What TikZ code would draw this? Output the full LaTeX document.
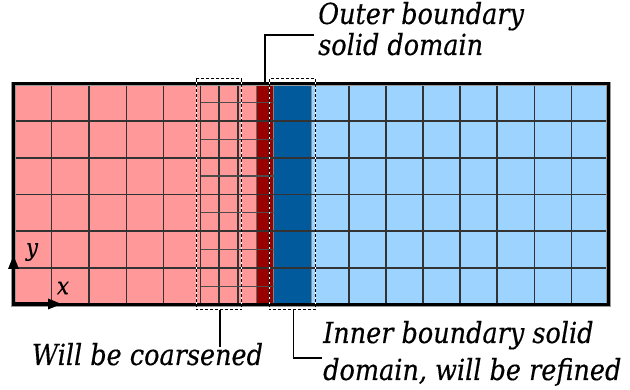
\documentclass[tikz,border=0pt]{standalone}
\usepackage{fontspec}
\setmainfont{DejaVu Serif}
\newfontfamily\labelfont[FakeStretch=0.88,FakeBold=0.4]{DejaVu Serif}
\usetikzlibrary{arrows.meta}
\definecolor{cellpink}{HTML}{FF9999}
\definecolor{solidred}{HTML}{990000}
\definecolor{solidblue}{HTML}{005A9C}
\definecolor{fluidblue}{HTML}{9DD4FF}
\tikzset{
  gridline/.style={draw=black!80, line width=1.5pt},
  fineline/.style={draw=black!70, line width=1.5pt},
  zonebox/.style={line width=1pt, dash pattern=on 3pt off 2pt},
  leader/.style={draw=black, line width=1.5pt},
  label/.style={font=\labelfont\fontsize{29}{34}\selectfont\itshape, inner sep=0pt, anchor=base west},
  axislabel/.style={font=\labelfont\fontsize{24}{28}\selectfont\itshape, inner sep=0pt},
  axis/.style={line width=3pt, -{Triangle[length=14pt,width=10pt]}}
}
\begin{document}
\begin{tikzpicture}[x=1pt,y=-1pt]
\useasboundingbox (0,0) rectangle (630,390);
% regions of the mesh
\fill[cellpink]   (13.5,84) rectangle (256.5,305);
\fill[solidred]   (256.5,84) rectangle (273.5,305);
\fill[solidblue]  (273.5,84) rectangle (311.5,305);
\fill[fluidblue]  (311.5,84) rectangle (608.5,305);
% regular columns
\foreach \x in {51.5,89,126.3,163.5,200.5,219,238,349,386,423,460,497,534.5,571.5}
  \draw[gridline] (\x,84) -- (\x,305);
\draw[draw=black!45, line width=1.4pt] (311.5,84) -- (311.5,305);
\draw[draw=black!60, line width=1pt] (256.5,84) -- (256.5,305);
\draw[draw=black!50, line width=1pt] (273.5,84) -- (273.5,305);
% rows
\foreach \y in {121,158,194.5,231,268}
  \draw[gridline] (13.5,\y) -- (608.5,\y);
% refined half rows next to the solid
\foreach \y in {102.5,139.5,176,212.5,249.5,286.5}
  \draw[fineline] (200.5,\y) -- (273.5,\y);
% outer frame
\draw[black!40, line width=4.5pt] (13.5,84) rectangle (608.5,305);
\draw[black, line width=3pt] (13.5,84) rectangle (608.5,305);
% zones marked for adaptation
\coordinate (cA) at (196,79);
\coordinate (cB) at (241.7,310);
\coordinate (rA) at (269.3,79);
\coordinate (rB) at (315.5,310);
\draw[white, line width=1pt] (cA) rectangle (cB);
\draw[zonebox] (cA) rectangle (cB);
\draw[white, line width=1pt] (rA) rectangle (rB);
\draw[zonebox] (rA) rectangle (rB);
% axes
\coordinate (origin) at (13.5,304);
\coordinate (yend) at (13.5,255);
\coordinate (xend) at (62,304);
\draw[axis] (origin) -- (yend);
\draw[axis] (origin) -- (xend);
\node[axislabel] (ylab) at (32,252) {y};
\node[axislabel] (xlab) at (63,288) {x};
% labels
\node[label] (outer1) at (318,24) {Outer boundary};
\node[label] (outer2) at (318,55) {solid domain};
\node[label] (coarse) at (31.7,365) {Will be coarsened};
\node[label] (inner1) at (323,343) {Inner boundary solid};
\node[label] (inner2) at (323,380) {domain, will be refined};
% leaders
\coordinate (outerfoot) at (265,84);
\coordinate (outerbend) at (265,35);
\coordinate (outerend) at (314,35);
\draw[leader] (outerfoot) -- (outerbend) -- (outerend);
\coordinate (coarsetop) at (220,310);
\coordinate (coarseend) at (220,347);
\draw[leader] (coarsetop) -- (coarseend);
\coordinate (innertop) at (293.3,310);
\coordinate (innerbend) at (293.3,358);
\coordinate (innerend) at (322,358);
\draw[leader] (innertop) -- (innerbend) -- (innerend);
\end{tikzpicture}
\end{document}
